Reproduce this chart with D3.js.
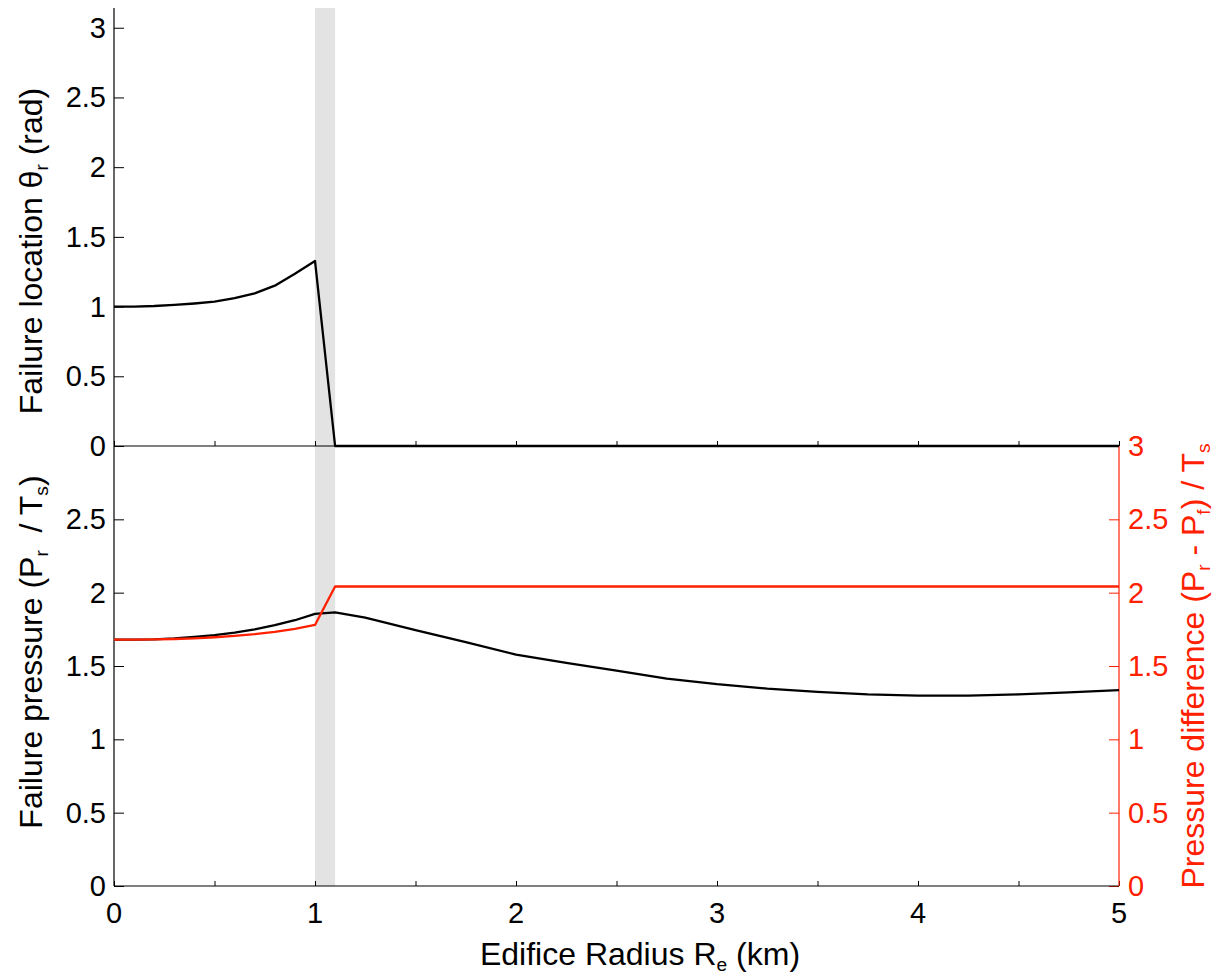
<!DOCTYPE html>
<html>
<head>
<meta charset="utf-8">
<script src="https://cdn.jsdelivr.net/npm/d3@7"></script>
<style>
  html, body { margin: 0; padding: 0; background: #fff; }
  svg text { font-family: "Liberation Sans", Arial, Helvetica, sans-serif; white-space: pre; }
</style>
</head>
<body>
<svg id="chart" width="1217" height="975"></svg>
<script>
// ---- data ----
const radiusTop = [0, 0.1, 0.2, 0.3, 0.4, 0.5, 0.6, 0.7, 0.8, 0.9, 1.0, 1.1, 5.0];
const failureLocation = [1.0, 1.0, 1.004, 1.012, 1.022, 1.035, 1.06, 1.095, 1.15, 1.235, 1.327, 0, 0];

const radiusBottom = [0, 0.1, 0.2, 0.3, 0.4, 0.5, 0.6, 0.7, 0.8, 0.9, 1.0, 1.1,
  1.25, 1.5, 1.75, 2.0, 2.25, 2.5, 2.75, 3.0, 3.25, 3.5, 3.75, 4.0, 4.25, 4.5, 4.75, 5.0];
const failurePressure = [1.68, 1.68, 1.682, 1.688, 1.698, 1.711, 1.728, 1.75, 1.778, 1.812, 1.855, 1.866,
  1.83, 1.745, 1.662, 1.578, 1.522, 1.469, 1.414, 1.376, 1.346, 1.324, 1.307, 1.298, 1.298, 1.306, 1.32, 1.336];
const pressureDifference = [1.68, 1.68, 1.681, 1.684, 1.689, 1.696, 1.705, 1.717, 1.733, 1.753, 1.78, 2.042,
  2.042, 2.042, 2.042, 2.042, 2.042, 2.042, 2.042, 2.042, 2.042, 2.042, 2.042, 2.042, 2.042, 2.042, 2.042, 2.042];

const shadedBand = [1.0, 1.1];
const xTicks = [0, 0.5, 1, 1.5, 2, 2.5, 3, 3.5, 4, 4.5, 5];
const xTickLabels = [0, 1, 2, 3, 4, 5];
const topYTicks = [0, 0.5, 1, 1.5, 2, 2.5, 3];
const bottomYTicks = [0, 0.5, 1, 1.5, 2, 2.5];
const rightYTicks = [0, 0.5, 1, 1.5, 2, 2.5, 3];

// ---- layout ----
const svg = d3.select("#chart");
const L = 114, R = 1119;
const topT = 8, mid = 446, bot = 886;
const FS = 29;      // tick label size
const LFS = 32;     // axis label size
const RED = "#ff2000";

const x = d3.scaleLinear().domain([0, 5]).range([L, R]);
const yTop = d3.scaleLinear().domain([0, Math.PI]).range([mid, topT]);
const yBot = d3.scaleLinear().domain([0, 3]).range([bot, mid]);
const yRight = d3.scaleLinear().domain([0, 3]).range([bot, mid]);

// shaded band
svg.append("rect")
  .attr("x", x(shadedBand[0])).attr("width", x(shadedBand[1]) - x(shadedBand[0]))
  .attr("y", topT).attr("height", bot - topT)
  .attr("fill", "#e3e3e3");

function fmt(d) { return String(d); }

const gTopL = svg.append("g").attr("transform", `translate(${L},0)`)
  .call(d3.axisRight(yTop).tickValues(topYTicks).tickSize(10).tickFormat(""));
const gBotL = svg.append("g").attr("transform", `translate(${L},0)`)
  .call(d3.axisRight(yBot).tickValues(bottomYTicks).tickSize(10).tickFormat(""));
const gTopX = svg.append("g").attr("transform", `translate(0,${mid})`)
  .call(d3.axisTop(x).tickValues(xTicks).tickSize(5).tickFormat(""));
const gBotX = svg.append("g").attr("transform", `translate(0,${bot})`)
  .call(d3.axisTop(x).tickValues(xTicks).tickSize(5).tickFormat(""));
const gR = svg.append("g").attr("transform", `translate(${R},0)`)
  .call(d3.axisLeft(yRight).tickValues(rightYTicks).tickSize(10).tickFormat(""));

[gTopL, gBotL, gTopX, gBotX].forEach(g => {
  g.select(".domain").remove();
  g.selectAll(".tick line").attr("stroke", "#000").attr("stroke-width", 1);
});
gR.select(".domain").remove();
gR.selectAll(".tick line").attr("stroke", RED).attr("stroke-width", 1);

// axis lines
svg.append("line").attr("x1", L).attr("x2", L).attr("y1", topT).attr("y2", bot)
  .attr("stroke", "#000").attr("stroke-width", 1.2);
svg.append("line").attr("x1", L).attr("x2", R).attr("y1", mid).attr("y2", mid)
  .attr("stroke", "#000").attr("stroke-width", 1.2);
svg.append("line").attr("x1", L).attr("x2", R).attr("y1", bot).attr("y2", bot)
  .attr("stroke", "#000").attr("stroke-width", 1.2);
svg.append("line").attr("x1", R).attr("x2", R).attr("y1", mid).attr("y2", bot)
  .attr("stroke", RED).attr("stroke-width", 1.2);

// tick labels
svg.append("g").selectAll("text").data(topYTicks).join("text")
  .attr("x", 106).attr("y", d => yTop(d) + 10)
  .attr("text-anchor", "end").attr("font-size", FS).attr("fill", "#000").text(fmt);
svg.append("g").selectAll("text").data(bottomYTicks).join("text")
  .attr("x", 106).attr("y", d => yBot(d) + 10)
  .attr("text-anchor", "end").attr("font-size", FS).attr("fill", "#000").text(fmt);
svg.append("g").selectAll("text").data(rightYTicks).join("text")
  .attr("x", 1128).attr("y", d => yRight(d) + 10)
  .attr("text-anchor", "start").attr("font-size", FS).attr("fill", RED).text(fmt);
svg.append("g").selectAll("text").data(xTickLabels).join("text")
  .attr("x", d => x(d)).attr("y", 923)
  .attr("text-anchor", "middle").attr("font-size", FS).attr("fill", "#000").text(fmt);

// lines
const lineTop = d3.line().x((d, i) => x(radiusTop[i])).y(d => yTop(d));
svg.append("path").datum(failureLocation).attr("d", lineTop)
  .attr("fill", "none").attr("stroke", "#000").attr("stroke-width", 2.3).attr("stroke-linejoin", "round");

const lineBot = d3.line().x((d, i) => x(radiusBottom[i])).y(d => yBot(d));
svg.append("path").datum(failurePressure).attr("d", lineBot)
  .attr("fill", "none").attr("stroke", "#000").attr("stroke-width", 2.3).attr("stroke-linejoin", "round");
const lineRight = d3.line().x((d, i) => x(radiusBottom[i])).y(d => yRight(d));
svg.append("path").datum(pressureDifference).attr("d", lineRight)
  .attr("fill", "none").attr("stroke", RED).attr("stroke-width", 2.3).attr("stroke-linejoin", "round");

// axis labels with subscripts
function subLabel(g, parts) {
  parts.forEach(p => {
    if (p.sub) {
      g.append("tspan").attr("font-size", LFS * 0.6).attr("dy", 6).text(p.t);
    } else if (p.after) {
      g.append("tspan").attr("dy", -6).text(p.t);
    } else {
      g.append("tspan").text(p.t);
    }
  });
}
const lblTop = svg.append("text").attr("font-size", LFS).attr("fill", "#000")
  .attr("text-anchor", "middle").attr("transform", "translate(42,251) rotate(-90)");
subLabel(lblTop, [{t: "Failure location θ"}, {t: "r", sub: true}, {t: " (rad)", after: true}]);

const lblBot = svg.append("text").attr("font-size", LFS).attr("fill", "#000")
  .attr("text-anchor", "middle").attr("transform", "translate(42,652) rotate(-90)");
subLabel(lblBot, [{t: "Failure pressure (P"}, {t: "r", sub: true}, {t: "  / T", after: true}, {t: "s", sub: true}, {t: ")", after: true}]);

const lblR = svg.append("text").attr("font-size", LFS).attr("fill", RED)
  .attr("text-anchor", "middle").attr("transform", "translate(1204,666) rotate(-90)");
subLabel(lblR, [{t: "Pressure difference (P"}, {t: "r", sub: true}, {t: " - P", after: true}, {t: "f", sub: true}, {t: ") / T", after: true}, {t: "s", sub: true}]);

const lblX = svg.append("text").attr("font-size", LFS).attr("fill", "#000")
  .attr("text-anchor", "middle").attr("transform", "translate(640,965)");
subLabel(lblX, [{t: "Edifice Radius R"}, {t: "e", sub: true}, {t: " (km)", after: true}]);
</script>
</body>
</html>
